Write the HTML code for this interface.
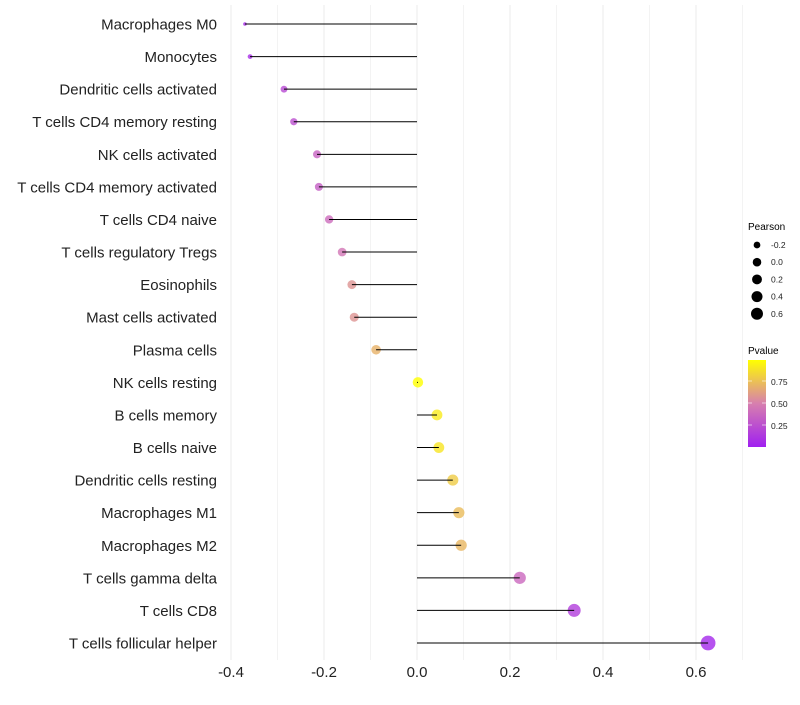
<!DOCTYPE html>
<html><head><meta charset="utf-8"><style>
body{margin:0;background:#fff;font-family:"Liberation Sans",sans-serif}
svg text{font-family:"Liberation Sans",sans-serif}
</style></head><body>
<svg id="c" width="800" height="700" xmlns="http://www.w3.org/2000/svg">
<defs><linearGradient id="pg" x1="0" y1="1" x2="0" y2="0">
<stop offset="0" stop-color="#a020f0"/><stop offset="0.5" stop-color="#d77fae"/><stop offset="1" stop-color="#ffff00"/></linearGradient></defs>
<g id="grid"></g>
<g id="marks"></g>
<g id="ylab"></g>
<g id="xlab"></g>
<g id="legP">
<text x="748" y="230" font-size="10">Pearson</text>
</g>
<g>
<text x="748" y="354" font-size="10">Pvalue</text>
<rect x="748" y="360" width="18" height="87" fill="url(#pg)"/>
<line x1="748" x2="752" y1="381" y2="381" stroke="#fff" opacity=".6"/><line x1="762" x2="766" y1="381" y2="381" stroke="#fff" opacity=".6"/>
<line x1="748" x2="752" y1="403" y2="403" stroke="#fff" opacity=".6"/><line x1="762" x2="766" y1="403" y2="403" stroke="#fff" opacity=".6"/>
<line x1="748" x2="752" y1="425" y2="425" stroke="#fff" opacity=".6"/><line x1="762" x2="766" y1="425" y2="425" stroke="#fff" opacity=".6"/>
<text x="771" y="385" font-size="8.5" fill="#222">0.75</text>
<text x="771" y="407" font-size="8.5" fill="#222">0.50</text>
<text x="771" y="429" font-size="8.5" fill="#222">0.25</text>
</g>
</svg>
<script>
const categories=["Macrophages M0","Monocytes","Dendritic cells activated","T cells CD4 memory resting","NK cells activated","T cells CD4 memory activated","T cells CD4 naive","T cells regulatory  Tregs","Eosinophils","Mast cells activated","Plasma cells","NK cells resting","B cells memory","B cells naive","Dendritic cells resting","Macrophages M1","Macrophages M2","T cells gamma delta","T cells CD8","T cells follicular helper"];
const pearson=[-0.370,-0.359,-0.286,-0.265,-0.215,-0.211,-0.189,-0.161,-0.140,-0.135,-0.088,0.002,0.043,0.047,0.077,0.090,0.095,0.221,0.338,0.626];
const pvalue=[0.05,0.07,0.22,0.25,0.35,0.33,0.4,0.45,0.58,0.58,0.7,1.0,0.92,0.9,0.8,0.74,0.72,0.38,0.15,0.04];
const xTicks=[-0.4,-0.2,0.0,0.2,0.4,0.6];
const xTickLabels=["-0.4","-0.2","0.0","0.2","0.4","0.6"];
const legendSizes=[-0.2,0.0,0.2,0.4,0.6];
const NS="http://www.w3.org/2000/svg";
const X=v=>417+v*465;
const Y=i=>24+i*(643-24)/19;
const R=p=>1.8+5.6*Math.sqrt(Math.max(0,p+0.37));
function lerp(a,b,t){return a.map((v,k)=>Math.round(v+(b[k]-v)*t));}
function col(p){const c0=[160,32,240],c1=[215,127,174],c2=[255,255,0];
 const c=p<0.5?lerp(c0,c1,p/0.5):lerp(c1,c2,(p-0.5)/0.5);return `rgb(${c})`;}
function mk(tag,attrs,parent){const e=document.createElementNS(NS,tag);for(const k in attrs)e.setAttribute(k,attrs[k]);parent.appendChild(e);return e;}
const grid=document.getElementById('grid'),marks=document.getElementById('marks'),ylab=document.getElementById('ylab'),xlab=document.getElementById('xlab'),legP=document.getElementById('legP');
for(let v=-0.4;v<=0.75;v+=0.1){const l=mk('line',{x1:X(v),x2:X(v),y1:5,y2:660,stroke:'#ebebeb','stroke-width':Math.abs(Math.round(v*10))%2===0?1:0.6},grid);

}
xTicks.forEach((v,i)=>{const t=mk('text',{x:X(v),y:677,'font-size':15,'text-anchor':'middle',fill:'#222'},xlab);t.textContent=xTickLabels[i];

});
categories.forEach((c,i)=>{
 const t=mk('text',{x:217,y:Y(i)+5.5,'font-size':15,'text-anchor':'end',fill:'#222'},ylab);t.textContent=c;
 
 
 const d=mk('circle',{cx:X(pearson[i]),cy:Y(i),r:R(pearson[i]),fill:col(pvalue[i]),opacity:0.8},marks);
 
 
 const l=mk('line',{x1:X(0),x2:X(pearson[i]),y1:Y(i),y2:Y(i),stroke:'#000','stroke-width':1},marks);
 
 
});
legendSizes.forEach((v,i)=>{const y=245+i*17.2;
 const d=mk('circle',{cx:757,cy:y,r:R(v)*0.82,fill:'#000'},legP);
 
 
 const t=mk('text',{x:771,y:y+3,'font-size':8.5,fill:'#222'},legP);t.textContent=v.toFixed(1);
 
 });
</script>
</body></html>
